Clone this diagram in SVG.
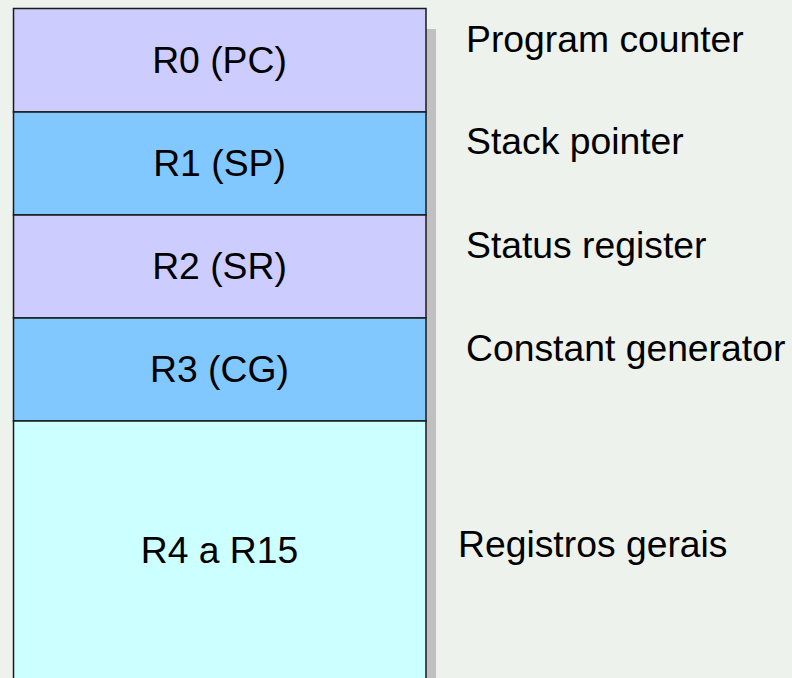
<svg xmlns="http://www.w3.org/2000/svg" width="792" height="678" viewBox="0 0 792 678">
  <style>
    .cell { stroke: #1a1a1a; stroke-width: 1.5; }
    .pc { fill: #CCCCFF; }
    .sp { fill: #80C8FF; }
    .gen { fill: #CCFFFF; }
    .lbl { font-family: "Liberation Sans", Arial, sans-serif; font-size: 37.3px; fill: #000; }
    .mid { text-anchor: middle; }
  </style>
  <rect x="0" y="0" width="792" height="678" fill="#EEF2EC"/>
  <!-- drop shadow behind the register stack -->
  <rect x="426" y="29" width="10" height="660" fill="#C0C0C0"/>

  <g id="r0">
    <rect class="cell pc" x="13.5" y="8.5" width="412.5" height="103.5"/>
    <text class="lbl mid" x="219.5" y="73">R0 (PC)</text>
  </g>
  <g id="r1">
    <rect class="cell sp" x="13.5" y="112" width="412.5" height="103"/>
    <text class="lbl mid" x="219.5" y="176">R1 (SP)</text>
  </g>
  <g id="r2">
    <rect class="cell pc" x="13.5" y="215" width="412.5" height="103"/>
    <text class="lbl mid" x="219.5" y="279">R2 (SR)</text>
  </g>
  <g id="r3">
    <rect class="cell sp" x="13.5" y="318" width="412.5" height="103"/>
    <text class="lbl mid" x="219.5" y="382">R3 (CG)</text>
  </g>
  <g id="r4-r15">
    <rect class="cell gen" x="13.5" y="421" width="412.5" height="270"/>
    <text class="lbl mid" x="219.5" y="563">R4 a R15</text>
  </g>

  <g id="descriptions">
    <text class="lbl" x="466" y="52">Program counter</text>
    <text class="lbl" x="466" y="154">Stack pointer</text>
    <text class="lbl" x="466" y="258">Status register</text>
    <text class="lbl" x="466" y="361">Constant generator</text>
    <text class="lbl" x="458" y="557">Registros gerais</text>
  </g>
  <g id="connectors"/>
</svg>
